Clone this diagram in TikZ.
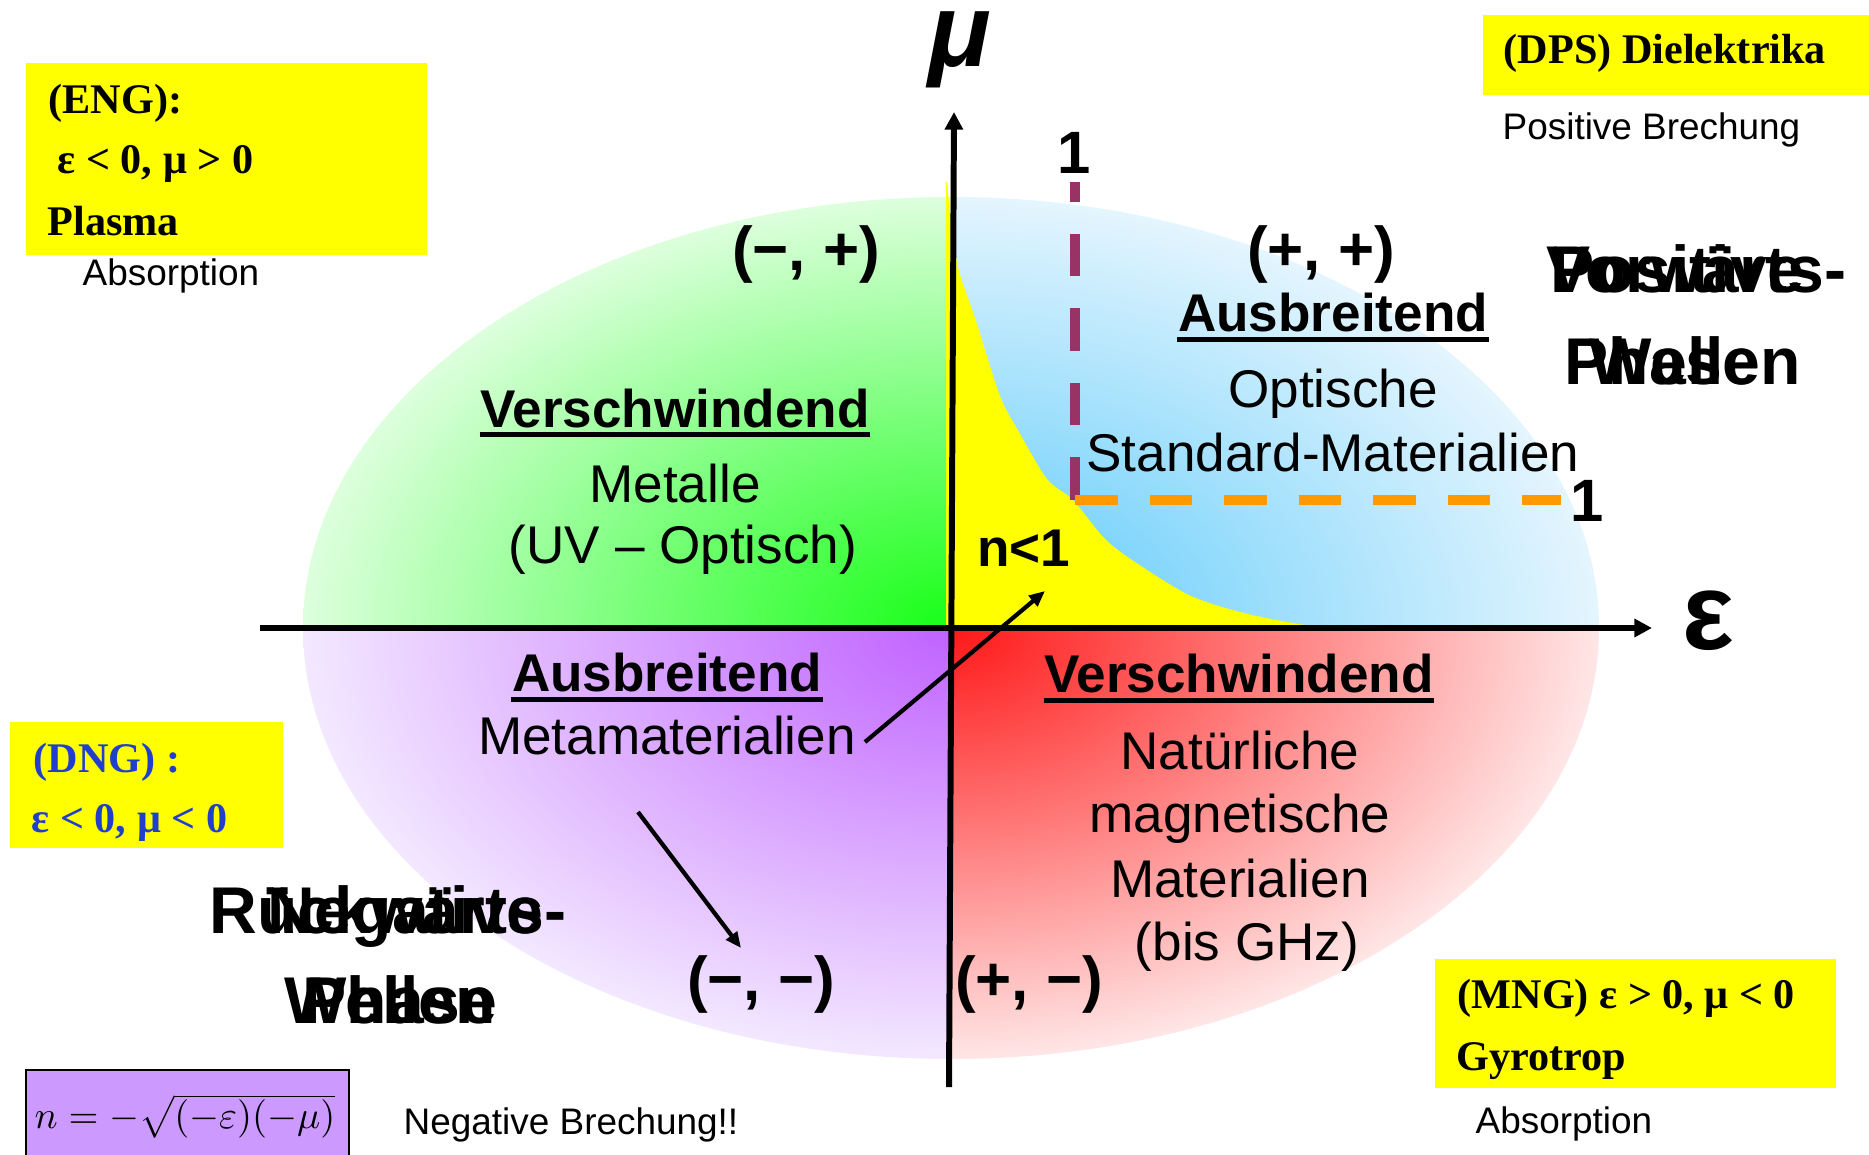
\documentclass[tikz,border=0pt]{standalone}
\usepackage{fontspec}
\setmainfont{Liberation Sans}
\newfontfamily\tms{Liberation Serif}
\usetikzlibrary{arrows.meta}
\newcommand\fs[1]{\fontsize{#1}{#1}\selectfont}
\definecolor{gin}{HTML}{18FF18}
\definecolor{gout}{HTML}{DDFFDD}
\definecolor{bin}{HTML}{55C8FA}
\definecolor{bout}{HTML}{E4F5FE}
\definecolor{pin}{HTML}{C062FF}
\definecolor{pout}{HTML}{F3E8FF}
\definecolor{rin}{HTML}{FF1818}
\definecolor{rout}{HTML}{FFE6E6}
\definecolor{maroon}{HTML}{993366}
\definecolor{orng}{HTML}{FF9900}
\definecolor{dngblue}{HTML}{1F3FCC}
\definecolor{fpurple}{HTML}{CC99FF}
\definecolor{yel}{HTML}{FFFF00}
\tikzset{
  txt/.style={inner sep=0pt, anchor=base, font=\fs{15.1pt}},
  hd/.style={inner sep=0pt, anchor=base, font=\bfseries\fs{15.1pt}},
  sgn/.style={inner sep=0pt, anchor=base, font=\bfseries\fs{17.6pt}},
  big/.style={inner sep=0pt, anchor=base, font=\bfseries\fs{18.8pt}},
  ser/.style={inner sep=0pt, anchor=base west, font=\tms\bfseries\fs{12pt}},
  small/.style={inner sep=0pt, anchor=base west, font=\fs{10.5pt}},
  ul/.style={line width=1.4pt},
  axisline/.style={line width=1.7pt, -{Triangle[length=5pt,width=5pt]}},
  sarrow/.style={line width=1.2pt, -{Triangle[length=4.5pt,width=3.8pt]}},
  dsh/.style={line width=3pt, dash pattern=on 12.1pt off 9.1pt},
}
\begin{document}
\begin{tikzpicture}[x=0.01cm,y=-0.01cm]
\useasboundingbox (0,0) rectangle (1869,1154);
\fill[white] (0,0) rectangle (1869,1154);

% quadrants of the ellipse
\begin{scope}
  \clip (951,628) ellipse [x radius=648, y radius=431];
  \begin{scope}
    \clip (290,180) rectangle (951,628);
    \shade[inner color=gin, outer color=gout] (303,197) rectangle (1599,1059);
  \end{scope}
  \begin{scope}
    \clip (951,180) rectangle (1610,628);
    \shade[inner color=bin, outer color=bout] (303,197) rectangle (1599,1059);
  \end{scope}
  \begin{scope}
    \clip (290,628) rectangle (951,1070);
    \shade[inner color=pin, outer color=pout] (303,197) rectangle (1599,1059);
  \end{scope}
  \begin{scope}
    \clip (951,628) rectangle (1610,1070);
    \shade[inner color=rin, outer color=rout] (303,197) rectangle (1599,1059);
  \end{scope}
\end{scope}

% yellow n<1 region
\fill[yel] (946,628) -- (946,182) -- plot[smooth, tension=0.5] coordinates {(947,182) (952,230) (959,271) (976,321) (1000,396) (1019,432) (1047,479) (1073,500) (1105,539) (1138,564) (1191,596) (1248,614) (1311,626) (1340,628)} -- cycle;

% dashed unit lines
\coordinate (corner) at (1075,500);
\coordinate (mtop) at (1075,182);
\coordinate (oend) at (1561,500);
\draw[dsh, maroon] (corner) -- (mtop);
\draw[dsh, orng] (corner) -- (oend);

% axes
\coordinate (vbot) at (949,1087);
\coordinate (vtop) at (954,112);
\coordinate (hleft) at (260,628);
\coordinate (hright) at (1652,628);
\draw[axisline] (vbot) -- (vtop);
\draw[axisline] (hleft) -- (hright);

\node[inner sep=0pt, anchor=base, font=\bfseries\itshape\fs{29.5pt}] (mu) at (960,66) {μ};
\node[inner sep=0pt, anchor=base, font=\bfseries\fs{31pt}] (eps) at (1708,649) {ε};
\node[inner sep=0pt, anchor=base, font=\bfseries\fs{17pt}] (one1) at (1074,173) {1};
\node[inner sep=0pt, anchor=base, font=\bfseries\fs{17pt}] (one2) at (1587,521) {1};

% quadrant texts
\node[sgn] (mp) at (806,270) {(−, +)};
\node[sgn] (pp) at (1321,270) {(+, +)};
\node[sgn] (mm) at (761,1000) {(−, −)};
\node[sgn] (pm) at (1029,1000) {(+, −)};

\node[hd] (hTR) at (1333,331) {Ausbreitend};
\draw[ul] ([yshift=-2.3pt]hTR.base west) -- ([yshift=-2.3pt]hTR.base east);
\node[txt] (opt) at (1333,407) {Optische};
\node[txt] (std) at (1333,471) {Standard-Materialien};

\node[hd] (hTL) at (675,427) {Verschwindend};
\draw[ul] ([yshift=-2.1pt]hTL.base west) -- ([yshift=-2.1pt]hTL.base east);
\node[txt] (met) at (675,502) {Metalle};
\node[txt] (uvo) at (683,563) {(UV – Optisch)};

\node[hd] (nl1) at (1024,566) {n<1};

\node[hd] (hBL) at (667,691) {Ausbreitend};
\draw[ul] ([yshift=-2.3pt]hBL.base west) -- ([yshift=-2.3pt]hBL.base east);
\node[txt] (meta) at (667,754) {Metamaterialien};

\node[hd] (hBR) at (1239,692) {Verschwindend};
\draw[ul] ([yshift=-2.3pt]hBR.base west) -- ([yshift=-2.3pt]hBR.base east);
\node[txt] (nat) at (1240,769) {Natürliche};
\node[txt] (mag) at (1240,832) {magnetische};
\node[txt] (mat) at (1240,897) {Materialien};
\node[txt] (ghz) at (1247,960) {(bis GHz)};

% arrows
\coordinate (a1s) at (865,742);
\coordinate (a1e) at (1045,591);
\draw[sarrow] (a1s) -- (a1e);
\coordinate (a2s) at (638,812);
\coordinate (a2e) at (741,948);
\draw[sarrow] (a2s) -- (a2e);

% overlapping big labels
\node[big] (pos1) at (1677,292) {Positive};
\node[big] (vor1) at (1696,292) {Vorwärts-};
\node[big] (pos2) at (1662,384) {Phase};
\node[big] (vor2) at (1695,384) {Wellen};
\node[big] (neg1) at (405,933) {Negative};
\node[big] (rue1) at (388,933) {Rückwärts-};
\node[big] (neg2) at (400,1023) {Phase};
\node[big] (rue2) at (390,1023) {Wellen};

% yellow boxes
\fill[yel] (26,63) rectangle (427,255);
\node[ser] (eng1) at (48,113) {(ENG):};
\node[ser] (eng2) at (57,173) {ε < 0, μ > 0};
\node[ser] (eng3) at (47,235) {Plasma};
\node[small] (abs1) at (82,285) {Absorption};

\fill[yel] (1483,15) rectangle (1869,95);
\node[ser] (dps) at (1503,63) {(DPS) Dielektrika};
\node[small] (posb) at (1502,139) {Positive Brechung};

\fill[yel] (10,722) rectangle (283,848);
\node[ser, text=dngblue] (dng1) at (33,772) {(DNG) :};
\node[ser, text=dngblue] (dng2) at (31,832) {ε < 0, μ < 0};

\fill[yel] (1435,959) rectangle (1836,1088);
\node[ser] (mng1) at (1457,1008) {(MNG) ε > 0, μ < 0};
\node[ser] (mng2) at (1456,1070) {Gyrotrop};
\node[small] (abs2) at (1475,1133) {Absorption};

% formula box
\filldraw[fill=fpurple, draw=black, line width=0.6pt] (26,1070) rectangle (349,1175);
\node[inner sep=0pt, anchor=base west] (frm) at (34,1128) {\fs{11.4pt}$n=-\sqrt{(-\varepsilon)(-\mu)}$};
\node[small] (negb) at (403,1134) {Negative Brechung!!};
\end{tikzpicture}
\end{document}
